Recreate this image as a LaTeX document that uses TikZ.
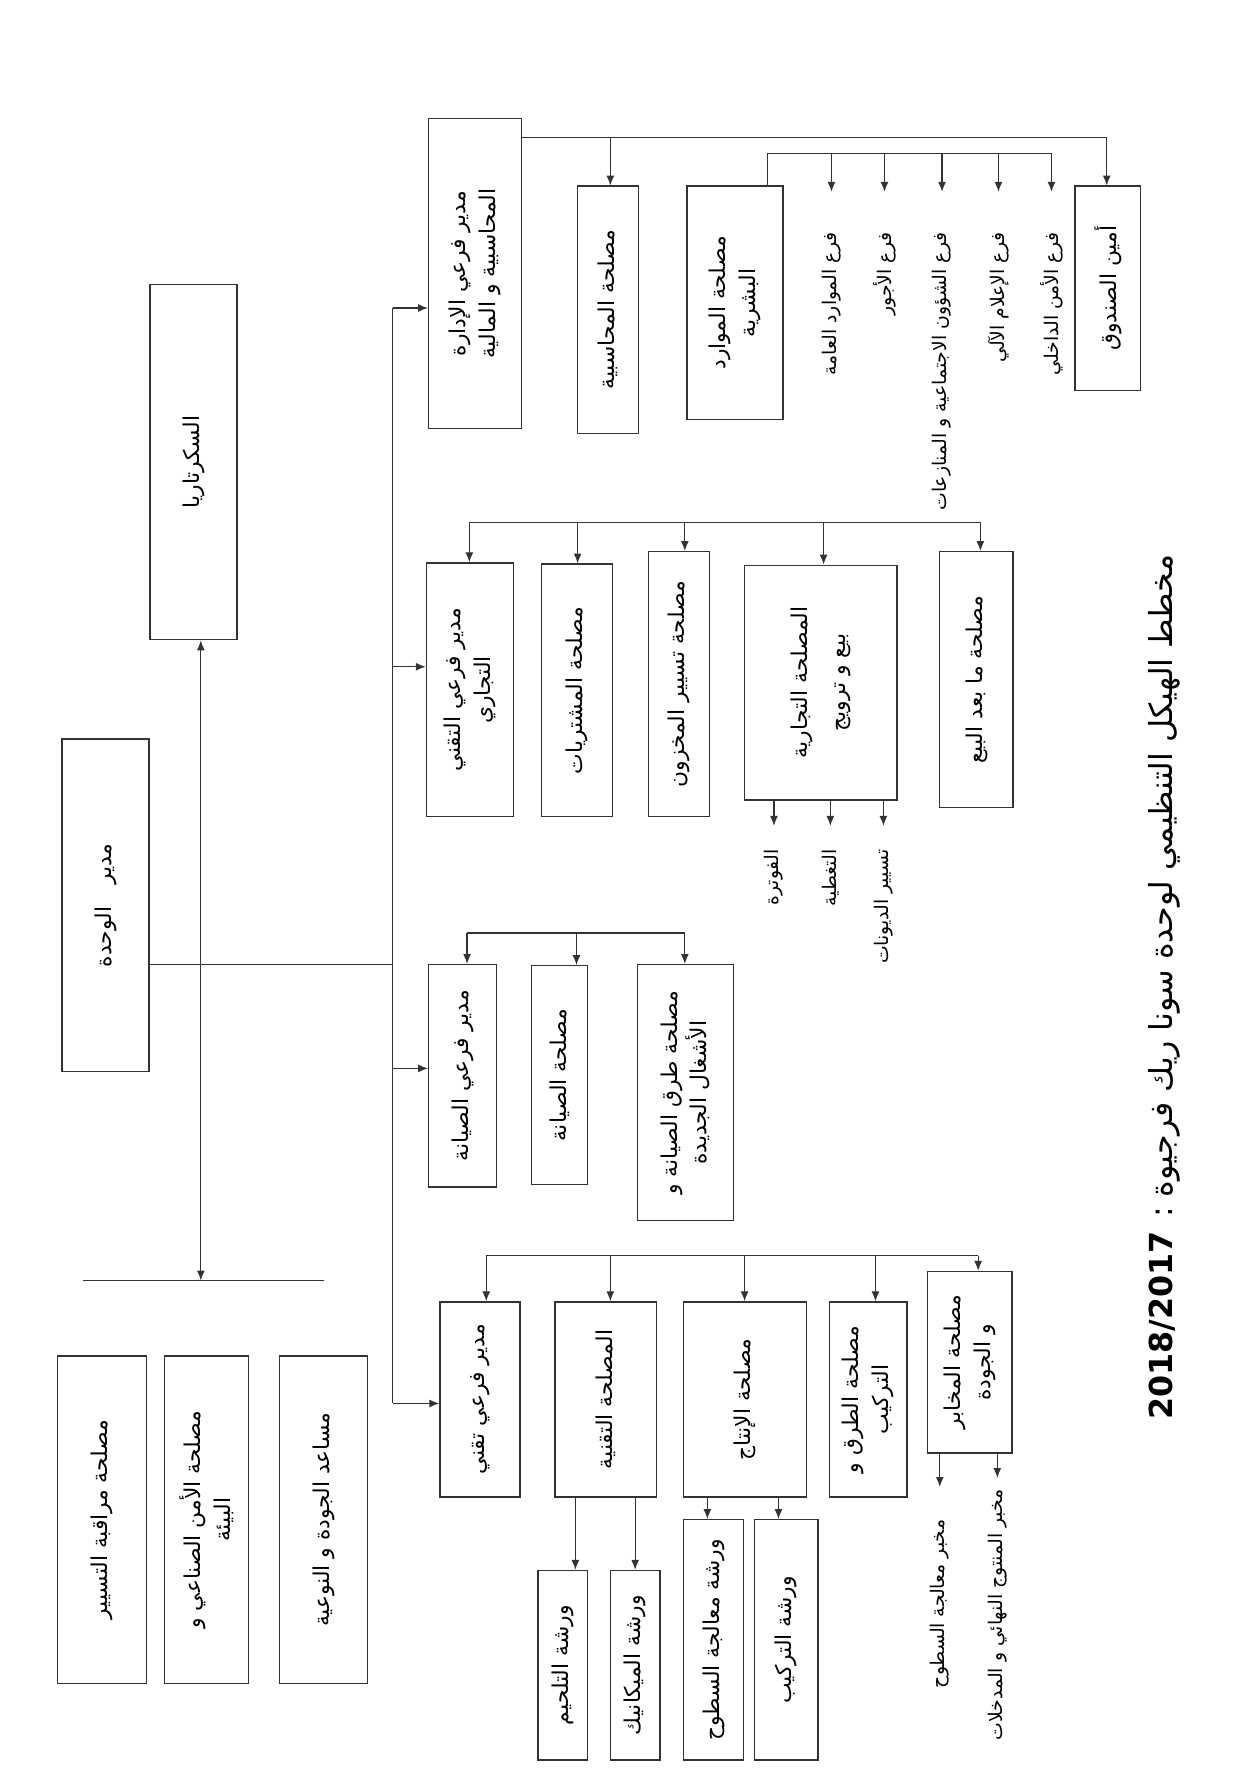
\documentclass[tikz,border=0pt]{standalone}
\usepackage{fontspec}
\usepackage{xcolor}
\usepackage{tikz}
\usetikzlibrary{arrows.meta}
\newfontfamily\arabicfont[Script=Arabic]{DejaVu Sans}
\TeXXeTstate=1
\newcommand{\rtxt}[1]{\beginR #1\endR}

\begin{document}
\begin{tikzpicture}[x=0.02cm, y=-0.02cm,
    box/.style={draw=black!80, line width=0.7pt, rotate=90, align=center, inner sep=2pt,
      font=\arabicfont\fontsize{11}{15}\selectfont},
    lbl/.style={rotate=90, anchor=east, inner sep=1pt, font=\arabicfont\fontsize{9.5}{12}\selectfont},
    link/.style={draw=black!80, line width=0.6pt},
    arr/.style={link, -{Latex[length=5pt,width=4pt]}},
    both/.style={link, {Latex[length=5pt,width=4pt]}-{Latex[length=5pt,width=4pt]}}]
    \useasboundingbox (0,0) rectangle (1110,1568);

    % Director and secretary
    \node[box, minimum width=5.9cm, minimum height=1.54cm] (dir) at (93.5,802.5) {\rtxt{مدير\quad الوحدة}};
    \node[box, minimum width=6.3cm, minimum height=1.54cm] (sec) at (171.5,409.5) {\rtxt{السكرتاريا}};

    % Staff services
    \node[box, minimum width=5.8cm, minimum height=1.58cm] (staff1) at (90.5,1347) {\rtxt{مصلحة مراقبة التسيير}};
    \node[box, minimum width=5.8cm, minimum height=1.48cm] (staff2) at (183,1347) {\rtxt{مصلحة الأمن الصناعي و}\\\rtxt{البيئة}};
    \node[box, minimum width=5.8cm, minimum height=1.56cm] (staff3) at (287,1347) {\rtxt{مساعد الجودة و النوعية}};

    \coordinate (stbus) at (178,1135);
    \coordinate (stL) at (74,1135);
    \coordinate (stR) at (287,1135);
    \draw[both] (sec.west -| stbus) -- (stbus);
    \draw[link] (stL) -- (stR);

    % Main bus to the sub-directors
    \coordinate (dbusD) at (348,855);
    \coordinate (dbusT) at (348,273);
    \coordinate (dbusB) at (348,1244);
    \draw[link] (dir.south |- dbusD) -- (dbusD);
    \draw[link] (dbusT) -- (dbusB);

    % Administration and finance
    \node[box, minimum width=5.5cm, minimum height=1.64cm] (admhead) at (421,242.5) {\rtxt{مدير فرعي الإدارة}\\\rtxt{المحاسبية و المالية}};
    \node[box, minimum width=4.38cm, minimum height=1.08cm] (compta) at (539,274.5) {\rtxt{مصلحة المحاسبية}};
    \node[box, minimum width=4.14cm, minimum height=1.7cm] (hr) at (651.5,268.5) {\rtxt{مصلحة الموارد}\\\rtxt{البشرية}};
    \node[box, minimum width=3.62cm, minimum height=1.16cm] (cashier) at (982,255.5) {\rtxt{أمين الصندوق}};

    \coordinate (abusR) at (981,122);
    \coordinate (hrbus) at (680,136);
    \draw[link] (admhead.south |- abusR) -- (abusR);
    \draw[arr] (abusR) -- (abusR |- cashier.east);
    \draw[arr] (541,122) -- (541,122 |- compta.east);
    \draw[link] (hrbus |- hr.east) -- (hrbus) -- (932,136);
    \foreach \xx/\txt [count=\i] in {737/{فرع الموارد العامة}, 784/{فرع الأجور},
        835/{فرع الشؤون الاجتماعية و المنازعات}, 885/{فرع الإعلام الآلي}, 932/{فرع الأمن الداخلي}} {
      \draw[arr] (\xx,136) -- (\xx,170);
      \node[lbl] (br\i) at (\xx,204) {\rtxt{\txt}};
    }

    % Technical-commercial
    \node[box, minimum width=4.5cm, minimum height=1.54cm] (tchead) at (416.5,611.5) {\rtxt{مدير فرعي التقني}\\\rtxt{التجاري}};
    \node[box, minimum width=4.48cm, minimum height=1.26cm] (achat) at (511.5,612) {\rtxt{مصلحة المشتريات}};
    \node[box, minimum width=4.7cm, minimum height=1.08cm] (stock) at (602,606.5) {\rtxt{مصلحة تسيير المخزون}};
    \node[box, minimum width=4.16cm, minimum height=2.7cm] (comm) at (727.5,605) {\rtxt{المصلحة التجارية}\\[4pt]\rtxt{بيع و ترويج}};
    \node[box, minimum width=4.54cm, minimum height=1.3cm] (sav) at (865.5,602.5) {\rtxt{مصلحة ما بعد البيع}};

    \draw[link] (416,463) -- (869,463);
    \foreach \xx/\nd in {416/tchead, 512/achat, 607/stock, 730/comm, 869/sav}
      \draw[arr] (\xx,463) -- (\xx,463 |- \nd.east);
    \foreach \xx/\txt [count=\i] in {686/{الفوترة}, 736/{التغطية}, 783/{تسيير الديونات}} {
      \draw[arr] (comm.west -| \xx,0) -- (\xx,732);
      \node[lbl] (out\i) at (\xx,751) {\rtxt{\txt}};
    }

    % Maintenance
    \node[box, minimum width=3.94cm, minimum height=1.2cm] (mhead) at (410,953.5) {\rtxt{مدير فرعي الصيانة}};
    \node[box, minimum width=3.88cm, minimum height=1.0cm] (maint) at (496,953) {\rtxt{مصلحة الصيانة}};
    \node[box, minimum width=4.54cm, minimum height=1.7cm] (methods) at (607.5,968.5) {\rtxt{مصلحة طرق الصيانة و}\\\rtxt{الأشغال الجديدة}};

    \draw[link] (414,827) -- (607,827);
    \foreach \xx/\nd in {414/mhead, 511/maint, 607/methods}
      \draw[arr] (\xx,827) -- (\xx,827 |- \nd.east);

    % Technical
    \node[box, minimum width=3.46cm, minimum height=1.42cm] (thead) at (425.5,1240.5) {\rtxt{مدير فرعي تقني}};
    \node[box, minimum width=3.46cm, minimum height=1.8cm] (tech) at (537,1240.5) {\rtxt{المصلحة التقنية}};
    \node[box, minimum width=3.46cm, minimum height=2.18cm] (prod) at (660.5,1240.5) {\rtxt{مصلحة الإنتاج}};
    \node[box, minimum width=3.46cm, minimum height=1.38cm] (route) at (769.5,1240.5) {\rtxt{مصلحة الطرق و}\\\rtxt{التركيب}};
    \node[box, minimum width=3.22cm, minimum height=1.5cm] (labs) at (859.5,1207.5) {\rtxt{مصلحة المخابر}\\\rtxt{و الجودة}};

    \node[box, minimum width=3.36cm, minimum height=0.88cm] (weld) at (499,1476) {\rtxt{ورشة التلحيم}};
    \node[box, minimum width=3.36cm, minimum height=0.88cm] (mech) at (563,1476) {\rtxt{ورشة الميكانيك}};
    \node[box, minimum width=4.26cm, minimum height=1.06cm] (surf) at (632.5,1453.5) {\rtxt{ورشة معالجة السطوح}};
    \node[box, minimum width=4.26cm, minimum height=1.12cm] (assem) at (697,1453.5) {\rtxt{ورشة التركيب}};

    \draw[link] (431,1113) -- (867,1113);
    \foreach \xx/\nd in {431/thead, 541/tech, 660/prod, 776/route, 867/labs}
      \draw[arr] (\xx,1113) -- (\xx,1113 |- \nd.east);
    \draw[arr] (tech.west -| 510,0) -- (510,0 |- weld.east);
    \draw[arr] (tech.west -| 563,0) -- (563,0 |- mech.east);
    \draw[arr] (prod.west -| 627,0) -- (627,0 |- surf.east);
    \draw[arr] (prod.west -| 690,0) -- (690,0 |- assem.east);
    \draw[arr] (labs.west -| 833,0) -- (833,1318);
    \draw[arr] (labs.west -| 884,0) -- (884,1310);
    \node[lbl] (lab1) at (833,1345) {\rtxt{مخبر معالجة السطوح}};
    \node[lbl] (lab2) at (884,1318) {\rtxt{مخبر المنتوج النهائي و المدخلات}};

    % Arrows from the main bus
    \foreach \yy/\nd in {273/admhead, 591/tchead, 947/mhead, 1244/thead}
      \draw[arr] (348,\yy) -- (348,\yy -| \nd.north);

    % Title
    \node[rotate=90, font=\arabicfont\fontsize{16}{19}\selectfont] (title) at (1032,875)
      {\rtxt{مخطط الهيكل التنظيمي لوحدة سونا ريك فرجيوة : {\bfseries\beginL 2018/2017\endL}}};
\end{tikzpicture}
\end{document}
